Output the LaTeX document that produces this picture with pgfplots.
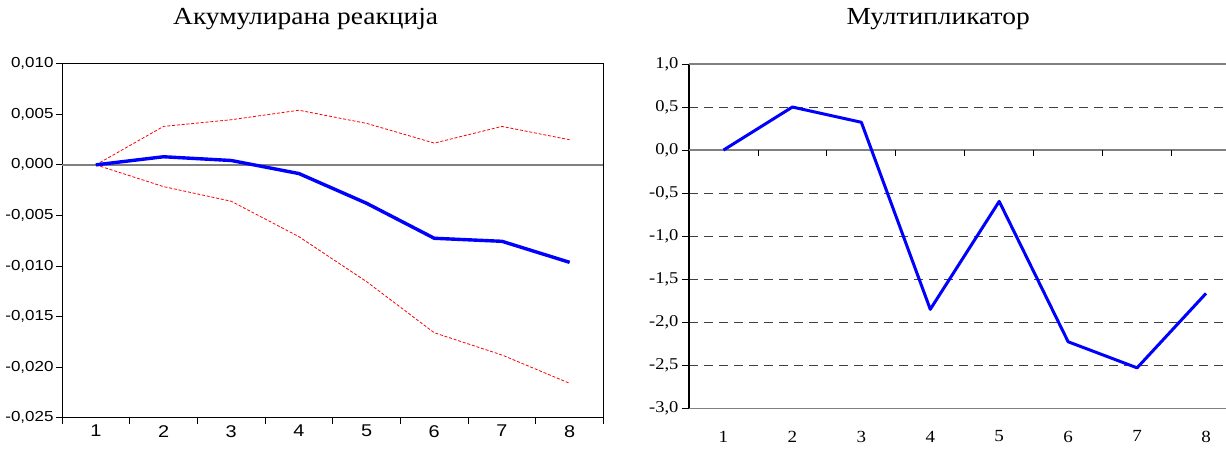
\documentclass[border=0pt]{standalone}
\usepackage{fontspec}
\usepackage{pgfplots}
\pgfplotsset{compat=1.18}
\newfontfamily\lsans[FakeStretch=1.17]{Liberation Sans}
\newfontfamily\lserif[FakeStretch=1.12]{Liberation Serif}
\setmainfont{Liberation Serif}

% accumulated response: point estimate and the two confidence bands
\pgfplotstableread{
h resp lower upper
1 0.0000 0.0000 0.0000
2 0.0008 -0.00215 0.0038
3 0.00043 -0.0036 0.00446
4 -0.00086 -0.0071 0.0054
5 -0.0038 -0.01155 0.0041
6 -0.00726 -0.0166 0.00215
7 -0.00756 -0.0188 0.0038
8 -0.00964 -0.0216 0.00248
}\acc

% multiplier
\pgfplotstableread{
h mult
1 0.0
2 0.50
3 0.323
4 -1.85
5 -0.596
6 -2.227
7 -2.53
8 -1.665
}\mult

\begin{document}
\begin{tikzpicture}
\path[use as bounding box] (0,0) rectangle (1226pt,-448pt);

% ---------------- left panel ----------------
\begin{axis}[
  at={(62pt,-63.7pt)}, anchor=north west, scale only axis,
  width=541.5pt, height=354pt,
  xmin=0.5, xmax=8.5, ymin=-0.025, ymax=0.010,
  axis line style={black, line width=0.9pt},
  tick align=outside, major tick length=6pt,
  tick style={black, line width=0.8pt},
  xtick pos=bottom, ytick pos=left,
  xtick={0.5,1.5,2.5,3.5,4.5,5.5,6.5,7.5,8.5}, xticklabels={},
  extra x ticks={1,2,3,4,5,6,7,8},
  extra x tick style={major tick length=0pt},
  ytick={-0.025,-0.02,-0.015,-0.01,-0.005,0,0.005,0.01},
  /pgf/number format/assume math mode=true,
  yticklabel style={/pgf/number format/.cd, fixed, fixed zerofill, precision=3, use comma, /tikz/.cd,
    font=\lsans\fontsize{14.5}{16}\selectfont, xshift=1pt},
  xticklabel style={font=\lsans\fontsize{17}{19}\selectfont, yshift=-4pt},
  scaled y ticks=false,
  title={Акумулирана реакција},
  title style={at={(0.45,1)}, anchor=base, yshift=33.7pt, font=\lserif\fontsize{24.5}{28}\selectfont},
]
\draw[black!50, line width=1.6pt] (axis cs:0.5,0) -- (axis cs:8.5,0);
\addplot[red, line width=0.8pt, dash pattern=on 3pt off 1.8pt] table[x=h, y=upper] {\acc};
\addplot[red, line width=0.8pt, dash pattern=on 3pt off 1.8pt] table[x=h, y=lower] {\acc};
\addplot[blue, line width=3.4pt, line join=round] table[x=h, y=resp] {\acc};
\end{axis}

% ---------------- right panel ----------------
\begin{axis}[
  at={(689pt,-64pt)}, anchor=north west, scale only axis,
  width=537pt, height=344.3pt,
  xmin=0.5, xmax=8.29, ymin=-3, ymax=1,
  separate axis lines,
  axis x line*=bottom, axis y line*=left,
  x axis line style={-, draw=none},
  y axis line style={-, black, line width=1.1pt},
  tick align=outside, major tick length=7pt,
  xtick={1,2,3,4,5,6,7,8}, xtick style={draw=none},
  ytick={-2.5,-2,-1.5,-1,-0.5,0.5},
  extra y ticks={-3,0,1},
  extra y tick style={grid style={solid, black!50, line width=1.6pt}},
  ytick style={black, line width=0.8pt},
  ymajorgrids,
  grid style={black!75, line width=0.8pt, dash pattern=on 9pt off 6pt},
  /pgf/number format/assume math mode=true,
  yticklabel style={/pgf/number format/.cd, fixed, fixed zerofill, precision=1, use comma, /tikz/.cd,
    font=\lserif\fontsize{16.5}{18}\selectfont},
  xticklabel style={font=\lserif\fontsize{17}{19}\selectfont, yshift=-12pt},
  title={Мултипликатор},
  title style={at={(0.464,1)}, anchor=base, yshift=34pt, font=\lserif\fontsize{24.5}{28}\selectfont},
  clip=false,
]
% short ticks hanging from the zero line, between the periods
\pgfplotsinvokeforeach{1.5,2.5,3.5,4.5,5.5,6.5,7.5}{
  \draw[black, line width=0.8pt] (axis cs:#1,0) -- ([yshift=-6pt]axis cs:#1,0);
}
\addplot[blue, line width=3pt, line join=round] table[x=h, y=mult] {\mult};
\end{axis}
\end{tikzpicture}
\end{document}
